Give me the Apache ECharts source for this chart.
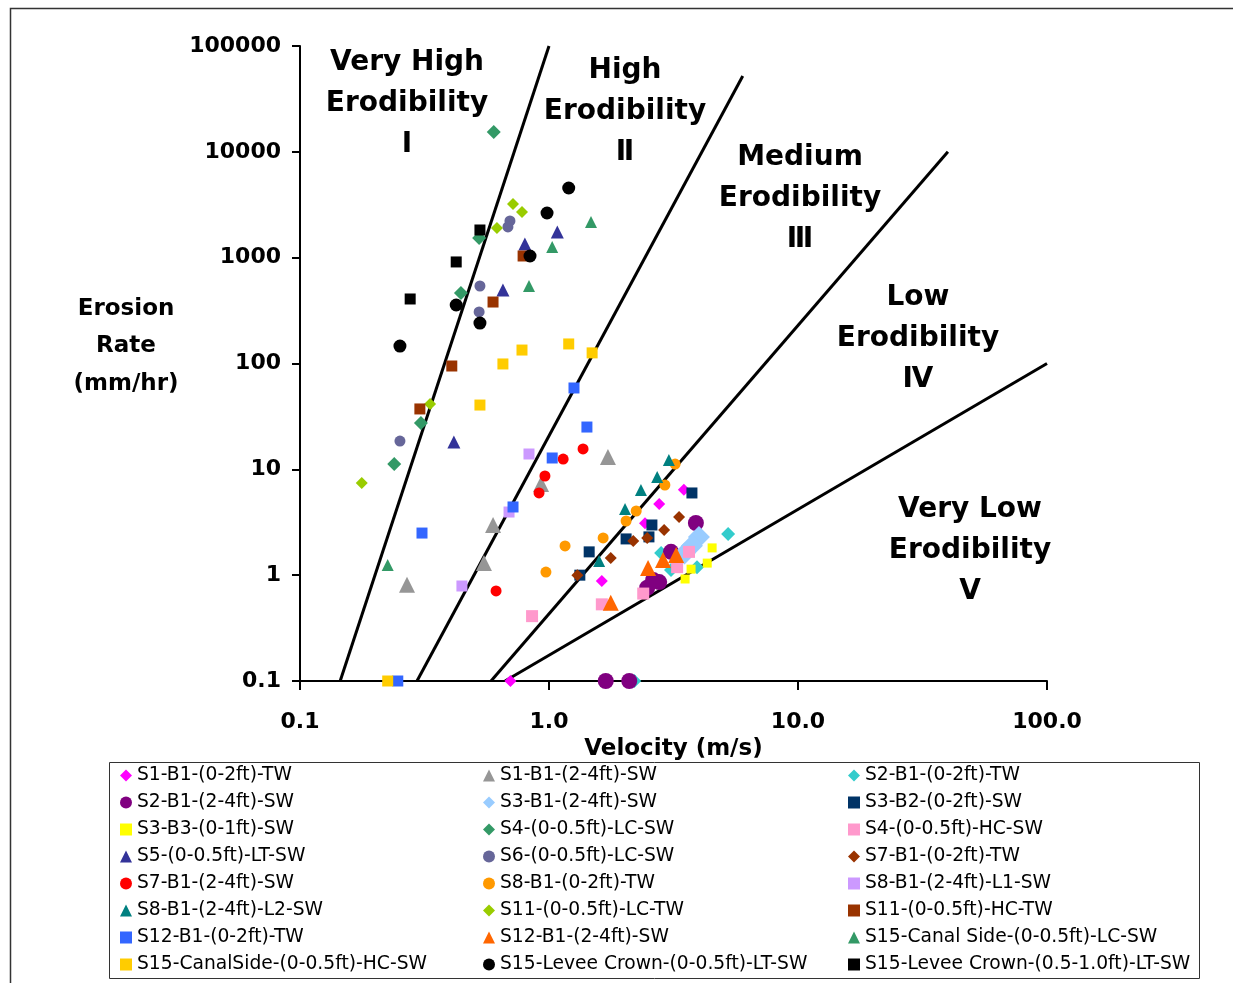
<!DOCTYPE html>
<html>
<head>
<meta charset="utf-8">
<script src="https://cdn.jsdelivr.net/npm/echarts@6/dist/echarts.min.js"></script>
<style>
  html, body { margin: 0; padding: 0; background: #fff; }
  #chart { width: 1233px; height: 983px; }
</style>
</head>
<body>
<div id="chart"></div>
<script>
// tick labels
const xTickLabels = ['0.1', '1.0', '10.0', '100.0']
const yTickLabels = ['0.1', '1', '10', '100', '1000', '10000', '100000']

// [velocity m/s, erosion rate mm/hr]
const s1b1_02_tw = [[3.48, 6.4], [2.77, 4.7], [2.43, 3.1], [1.63, 0.88], [0.70, 0.1]]
const s1b1_24_sw = [[0.269, 0.81], [0.548, 1.3], [0.596, 2.98], [0.929, 7.27], [1.725, 13.1]]
const s2b1_02_tw = [[5.24, 2.45], [2.82, 1.62], [3.09, 1.12], [3.93, 1.19], [2.2, 0.1]]
const s2b1_24_sw = [[3.89, 3.11], [3.09, 1.66], [2.62, 0.9], [2.77, 0.86], [2.48, 0.76], [1.69, 0.1], [2.1, 0.1]]
const s3b1_24_sw = [[4.0, 2.3], [3.75, 1.9], [3.5, 1.6]]
const s3b2_02_sw = [[3.75, 5.98], [2.59, 2.98], [2.52, 2.3], [2.04, 2.2], [1.45, 1.66], [1.33, 1.0]]
const s3b3_01_sw = [[4.52, 1.81], [4.32, 1.3], [3.72, 1.14], [3.52, 0.92]]
const s4_lc_sw = [[0.6, 15400], [0.524, 1536], [0.443, 464], [0.306, 27.4], [0.239, 11.2]]
const s4_hc_sw = [[0.855, 0.41], [1.63, 0.53], [2.39, 0.67], [3.27, 1.19], [3.65, 1.66]]
const s5_lt_sw = [[0.415, 18.1], [0.653, 495], [0.8, 1347], [1.08, 1748]]
const s6_lc_sw = [[0.252, 18.5], [0.528, 540], [0.524, 307], [0.697, 2222], [0.684, 1950]]
const s7b1_02_tw = [[3.33, 3.55], [2.9, 2.67], [2.48, 2.25], [2.18, 2.1], [1.77, 1.45], [1.3, 1.0]]
const s7b1_24_sw = [[1.37, 15.6], [1.14, 12.5], [0.963, 8.65], [0.912, 5.98], [0.613, 0.71]]
const s8b1_02_tw = [[3.21, 11.2], [2.92, 7.11], [2.24, 4.04], [2.04, 3.25], [1.65, 2.25], [1.16, 1.89], [0.972, 1.07]]
const s8b1_l1_sw = [[0.831, 13.96], [0.691, 3.95], [0.447, 0.79]]
const s8b1_l2_sw = [[3.03, 12.25], [2.72, 8.47], [2.34, 6.38], [2.02, 4.22], [1.59, 1.36]]
const s11_lc_tw = [[0.717, 3215], [0.779, 2700], [0.618, 1907], [0.333, 41.4], [0.177, 7.43]]
const s11_hc_tw = [[0.787, 1037], [0.596, 381], [0.407, 94.7], [0.303, 37.2]]
const s12b1_02_tw = [[1.26, 58.7], [1.42, 25.1], [1.03, 12.8], [0.717, 4.41], [0.309, 2.5], [0.247, 0.1]]
const s12b1_24_sw = [[3.24, 1.55], [2.87, 1.39], [2.5, 1.17], [1.77, 0.55]]
const s15cs_lc_sw = [[1.475, 2173], [1.03, 1262], [0.831, 540], [0.225, 1.25]]
const s15cs_hc_sw = [[1.2, 153], [1.49, 126], [0.779, 134], [0.653, 99], [0.528, 40.5], [0.225, 0.1]]
const s15lc_05_sw = [[1.2, 4550], [0.982, 2643], [0.839, 1037], [0.424, 357], [0.528, 241], [0.252, 146]]
const s15lc_510_sw = [[0.528, 1826], [0.424, 911], [0.277, 407]]

// erodibility category boundaries
const boundaryLines = [
  [[0.145, 0.1], [1.0, 100000]],
  [[0.295, 0.1], [6.0, 52000]],
  [[0.585, 0.1], [40, 10000]],
  [[0.666, 0.1], [100, 100]]
]

const seriesList = [
  { name: 'S1-B1-(0-2ft)-TW', data: s1b1_02_tw, symbol: 'diamond', size: 12, color: '#FF00FF' },
  { name: 'S1-B1-(2-4ft)-SW', data: s1b1_24_sw, symbol: 'triangle', size: 16, color: '#969696' },
  { name: 'S2-B1-(0-2ft)-TW', data: s2b1_02_tw, symbol: 'diamond', size: 14, color: '#33CCCC' },
  { name: 'S2-B1-(2-4ft)-SW', data: s2b1_24_sw, symbol: 'circle', size: 16, color: '#800080' },
  { name: 'S3-B1-(2-4ft)-SW', data: s3b1_24_sw, symbol: 'diamond', size: 22, color: '#99CCFF' },
  { name: 'S3-B2-(0-2ft)-SW', data: s3b2_02_sw, symbol: 'rect', size: 11, color: '#003366' },
  { name: 'S3-B3-(0-1ft)-SW', data: s3b3_01_sw, symbol: 'rect', size: 9, color: '#FFFF00' },
  { name: 'S4-(0-0.5ft)-LC-SW', data: s4_lc_sw, symbol: 'diamond', size: 14, color: '#339966' },
  { name: 'S4-(0-0.5ft)-HC-SW', data: s4_hc_sw, symbol: 'rect', size: 12, color: '#FF99CC' },
  { name: 'S5-(0-0.5ft)-LT-SW', data: s5_lt_sw, symbol: 'triangle', size: 13, color: '#333399' },
  { name: 'S6-(0-0.5ft)-LC-SW', data: s6_lc_sw, symbol: 'circle', size: 11, color: '#666699' },
  { name: 'S7-B1-(0-2ft)-TW', data: s7b1_02_tw, symbol: 'diamond', size: 12, color: '#993300' },
  { name: 'S7-B1-(2-4ft)-SW', data: s7b1_24_sw, symbol: 'circle', size: 11, color: '#FF0000' },
  { name: 'S8-B1-(0-2ft)-TW', data: s8b1_02_tw, symbol: 'circle', size: 11, color: '#FF9900' },
  { name: 'S8-B1-(2-4ft)-L1-SW', data: s8b1_l1_sw, symbol: 'rect', size: 11, color: '#CC99FF' },
  { name: 'S8-B1-(2-4ft)-L2-SW', data: s8b1_l2_sw, symbol: 'triangle', size: 12, color: '#008080' },
  { name: 'S11-(0-0.5ft)-LC-TW', data: s11_lc_tw, symbol: 'diamond', size: 12, color: '#99CC00' },
  { name: 'S11-(0-0.5ft)-HC-TW', data: s11_hc_tw, symbol: 'rect', size: 11, color: '#993300' },
  { name: 'S12-B1-(0-2ft)-TW', data: s12b1_02_tw, symbol: 'rect', size: 11, color: '#3366FF' },
  { name: 'S12-B1-(2-4ft)-SW', data: s12b1_24_sw, symbol: 'triangle', size: 16, color: '#FF6600' },
  { name: 'S15-Canal Side-(0-0.5ft)-LC-SW', data: s15cs_lc_sw, symbol: 'triangle', size: 12, color: '#339966' },
  { name: 'S15-CanalSide-(0-0.5ft)-HC-SW', data: s15cs_hc_sw, symbol: 'rect', size: 11, color: '#FFCC00' },
  { name: 'S15-Levee Crown-(0-0.5ft)-LT-SW', data: s15lc_05_sw, symbol: 'circle', size: 13, color: '#000000' },
  { name: 'S15-Levee Crown-(0.5-1.0ft)-LT-SW', data: s15lc_510_sw, symbol: 'rect', size: 11, color: '#000000' }
]

const regionLabels = [
  { lines: ['Very High', 'Erodibility', 'I'], x: 407, y: 63 },
  { lines: ['High', 'Erodibility', 'Ⅱ'], x: 625, y: 71 },
  { lines: ['Medium', 'Erodibility', 'Ⅲ'], x: 800, y: 158 },
  { lines: ['Low', 'Erodibility', 'Ⅳ'], x: 918, y: 298 },
  { lines: ['Very Low', 'Erodibility', 'V'], x: 970, y: 510 }
]

const FONT = '"DejaVu Sans", "Liberation Sans", Arial, sans-serif'

const graphics = [
  // outer frame
  { type: 'rect', shape: { x: 10.5, y: 8.5, width: 1300, height: 1100 }, style: { fill: 'none', stroke: '#333', lineWidth: 1.5 }, silent: true },
  // legend box
  { type: 'rect', shape: { x: 109.5, y: 762.5, width: 1090, height: 216 }, style: { fill: 'none', stroke: '#333', lineWidth: 1 }, silent: true }
]
regionLabels.forEach(r => {
  r.lines.forEach((t, i) => {
    graphics.push({
      type: 'text', silent: true,
      style: { x: r.x, y: r.y + i * 41, text: t, textAlign: 'center', textVerticalAlign: 'middle',
        font: 'bold 28px ' + FONT, fill: '#000' }
    })
  })
})
;['Erosion', 'Rate', '(mm/hr)'].forEach((t, i) => {
  graphics.push({
    type: 'text', silent: true,
    style: { x: 126, y: 309 + i * 37.5, text: t, textAlign: 'center', textVerticalAlign: 'middle',
      font: 'bold 23px ' + FONT, fill: '#000' }
  })
})

const series = []
boundaryLines.forEach(l => {
  series.push({
    type: 'line', data: l, showSymbol: false, silent: true, z: 1,
    lineStyle: { color: '#000', width: 3 }
  })
})
seriesList.forEach(s => {
  series.push({
    name: s.name, type: 'scatter', data: s.data, symbol: s.symbol, symbolSize: s.size, z: 3,
    itemStyle: { color: s.color, opacity: 1 }
  })
})

const legendCols = [0, 1, 2].map(c => seriesList.filter((s, i) => i % 3 === c).map(s => s.name))
const legendLeft = [120, 483, 848]
const legends = legendCols.map((names, c) => ({
  data: names,
  orient: 'vertical',
  left: legendLeft[c],
  top: 766,
  padding: 0,
  itemGap: 8,
  itemWidth: 12,
  itemHeight: 12,
  selectedMode: false,
  textStyle: { fontSize: 18.7, color: '#000', fontFamily: FONT, padding: [0, 0, 0, 0] }
}))

const chart = echarts.init(document.getElementById('chart'))
chart.setOption({
  animation: false,
  backgroundColor: '#fff',
  textStyle: { fontFamily: FONT },
  grid: { left: 300, top: 46, width: 747, height: 635 },
  legend: legends,
  xAxis: {
    type: 'log', logBase: 10, min: 0.1, max: 100,
    name: 'Velocity (m/s)', nameLocation: 'middle', nameGap: 47,
    nameTextStyle: { fontSize: 23, fontWeight: 'bold', color: '#000', fontFamily: FONT },
    axisLine: { lineStyle: { color: '#000', width: 2 } },
    axisTick: { show: true, length: 9, lineStyle: { color: '#000', width: 2 } },
    axisLabel: {
      margin: 30, fontSize: 22, fontWeight: 'bold', color: '#000', fontFamily: FONT,
      formatter: v => xTickLabels[Math.round(Math.log10(v)) + 1]
    },
    splitLine: { show: false }
  },
  yAxis: {
    type: 'log', logBase: 10, min: 0.1, max: 100000,
    axisLine: { lineStyle: { color: '#000', width: 2 } },
    axisTick: { show: true, length: 8, lineStyle: { color: '#000', width: 2 } },
    axisLabel: {
      margin: 19, fontSize: 22, fontWeight: 'bold', color: '#000', fontFamily: FONT,
      formatter: v => yTickLabels[Math.round(Math.log10(v)) + 1]
    },
    splitLine: { show: false }
  },
  graphic: graphics,
  series: series
})
</script>
</body>
</html>
